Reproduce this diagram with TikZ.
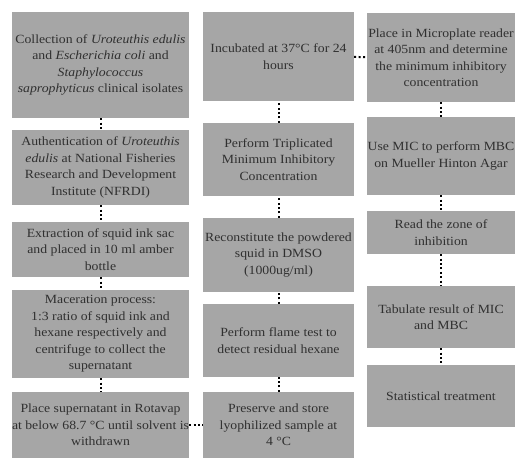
\documentclass[tikz,border=0pt]{standalone}
\usepackage{fontspec}
\setmainfont[FakeStretch=1.1]{Liberation Serif}
\usepackage{tikz}
\definecolor{boxgray}{HTML}{A6A6A6}
\definecolor{inkgray}{HTML}{303030}
\tikzstyle{stepbox}=[fill=boxgray,text=inkgray,align=center,inner sep=0pt,font=\fontsize{12.5}{16.5}\selectfont]
\tikzstyle{colA}=[stepbox,minimum width=177pt]
\tikzstyle{colB}=[stepbox,minimum width=151pt]
\tikzstyle{colC}=[stepbox,minimum width=148pt]
\tikzstyle{dots}=[draw,black,line width=2pt,dash pattern=on 2pt off 2.4pt]

\begin{document}
\begin{tikzpicture}[x=1pt,y=-1pt]
    \useasboundingbox (0,0) rectangle (516,459);
    % first column
    \node[colA,minimum height=106pt] (a1) at (100.5,65) {Collection of \textit{Uroteuthis edulis}\\ and \textit{Escherichia coli} and\\ \textit{Staphylococcus}\\ \textit{saprophyticus} clinical isolates};
    \node[colA,minimum height=75pt] (a2) at (100.5,167.5) {Authentication of \textit{Uroteuthis}\\ \textit{edulis} at National Fisheries\\ Research and Development\\ Institute (NFRDI)};
    \node[colA,minimum height=55pt] (a3) at (100.5,249.5) {Extraction of squid ink sac\\ and placed in 10 ml amber\\ bottle};
    \node[colA,minimum height=88pt] (a4) at (100.5,334) {Maceration process:\\ 1:3 ratio of squid ink and\\ hexane respectively and\\ centrifuge to collect the\\ supernatant};
    \node[colA,minimum height=66pt] (a5) at (100.5,425) {Place supernatant in Rotavap\\ \makebox[170pt][c]{at below 68.7 °C until solvent is}\\ withdrawn};
    % second column
    \node[colB,minimum height=89pt] (b1) at (278.5,56.5) {Incubated at 37°C for 24\\ hours};
    \node[colB,minimum height=73pt] (b2) at (278.5,159.5) {Perform Triplicated\\ Minimum Inhibitory\\ Concentration};
    \node[colB,minimum height=74pt] (b3) at (278.5,255) {Reconstitute the powdered\\ squid in DMSO\\ (1000ug/ml)};
    \node[colB,minimum height=73pt] (b4) at (278.5,340.5) {Perform flame test to\\ detect residual hexane};
    \node[colB,minimum height=66pt] (b5) at (278.5,425) {Preserve and store\\ lyophilized sample at\\ 4 °C};
    % third column
    \node[colC,minimum height=89pt] (c1) at (441,57.5) {Place in Microplate reader\\ at 405nm and determine\\ the minimum inhibitory\\ concentration};
    \node[colC,minimum height=78pt] (c2) at (441,156) {Use MIC to perform MBC\\ on Mueller Hinton Agar};
    \node[colC,minimum height=43pt] (c3) at (441,232.5) {Read the zone of\\ inhibition};
    \node[colC,minimum height=62pt] (c4) at (441,317) {Tabulate result of MIC\\ and MBC};
    \node[colC,minimum height=62pt] (c5) at (441,396) {Statistical treatment};
    % dotted links
    \foreach \source/\dest in {a1/a2,a2/a3,a3/a4,a4/a5,a5/b5,b5/b4,b4/b3,b3/b2,b2/b1,b1/c1,c1/c2,c2/c3,c3/c4,c4/c5}
        \path[dots] (\source) -- (\dest);
\end{tikzpicture}
\end{document}
